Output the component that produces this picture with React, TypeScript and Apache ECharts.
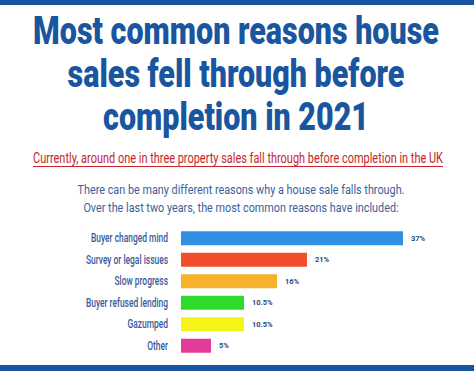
import React, { useEffect, useRef } from "react";
import * as echarts from "echarts";

const categories = ["Buyer changed mind", "Survey or legal issues", "Slow progress", "Buyer refused lending", "Gazumped", "Other"];
const values = [37, 21, 16, 10.5, 10.5, 5];
const barColors = ["#3190e3", "#f24e2b", "#f7b22c", "#2fdb2a", "#f5f418", "#e43b9a"];
const titleLines = ["Most common reasons house", "sales fell through before", "completion in 2021"];
const subtitle = "Currently, around one in three property sales fall through before completion in the UK";
const descLines = ["There can be many different reasons why a house sale falls through.", "Over the last two years, the most common reasons have included:"];

function measure(text: string, font: string): number {
  const ctx = document.createElement("canvas").getContext("2d");
  if (!ctx) return 1;
  ctx.font = font;
  return ctx.measureText(text).width || 1;
}

export default function App() {
  const ref = useRef<HTMLDivElement>(null);
  useEffect(() => {
    if (!ref.current) return;
    const chart = echarts.init(ref.current, undefined, { renderer: "svg" });
    const titleFont = "900 38px Roboto";
    const titleScale = 406 / measure(titleLines[0], titleFont);
    const subFont = "14px Roboto";
    const subScale = 410 / measure(subtitle, subFont);
    const descFont = "13px Roboto";
    const descScale = 327 / measure(descLines[0], descFont);
    const catFont = "500 13.5px Roboto";
    const catScale = 77 / measure(categories[0], catFont);

    const graphics: any[] = [
      { type: "rect", shape: { x: 0, y: 0, width: 474, height: 5 }, style: { fill: "#1a54a0" } },
      { type: "rect", shape: { x: 0, y: 365, width: 474, height: 6 }, style: { fill: "#1a54a0" } },
    ];
    titleLines.forEach((t, i) => {
      graphics.push({
        type: "text",
        x: 236,
        y: 31 + i * 43,
        scaleX: titleScale,
        style: { text: t, fill: "#1a55a0", font: titleFont, textAlign: "center", textVerticalAlign: "middle" },
      });
    });
    graphics.push({
      type: "text",
      x: 238,
      y: 158,
      scaleX: subScale,
      style: { text: subtitle, fill: "#c4262b", font: subFont, textAlign: "center", textVerticalAlign: "middle" },
    });
    graphics.push({ type: "line", shape: { x1: 33, y1: 166.5, x2: 443, y2: 166.5 }, style: { stroke: "#c4262b", lineWidth: 1 } });
    descLines.forEach((t, i) => {
      graphics.push({
        type: "text",
        x: 241,
        y: 190 + i * 18,
        scaleX: descScale,
        style: { text: t, fill: "#3b5f9c", font: descFont, textAlign: "center", textVerticalAlign: "middle" },
      });
    });
    const gridLeft = 181;
    chart.setOption({
      animation: false,
      backgroundColor: "#ffffff",
      grid: { left: gridLeft, top: 227.5, width: 270, height: 129, containLabel: false },
      xAxis: { type: "value", min: 0, max: 45, show: false },
      yAxis: {
        type: "category",
        data: categories,
        inverse: true,
        axisLine: { show: false },
        axisTick: { show: false },
        axisLabel: { show: false },
      },
      series: [
        {
          type: "bar",
          data: values.map((v, i) => ({ value: v, itemStyle: { color: barColors[i] } })),
          barWidth: 14,
          label: {
            show: true,
            position: "right",
            distance: 8,
            formatter: (p: any) => `${p.value}%`,
            color: "#2a4a80",
            fontSize: 7.5,
            fontWeight: "bold",
            fontFamily: "Roboto, sans-serif",
          },
        },
      ],
      graphic: graphics,
    });
    // category labels placed via the y axis scale, condensed with scaleX
    const catGraphics = categories.map((c) => {
      const py = chart.convertToPixel({ yAxisIndex: 0 }, c) as number;
      return {
        type: "text",
        x: gridLeft - 13,
        y: py,
        scaleX: catScale,
        style: { text: c, fill: "#3b5b9b", font: catFont, textAlign: "right", textVerticalAlign: "middle" },
      };
    });
    chart.setOption({ graphic: [...graphics, ...catGraphics] });
    return () => chart.dispose();
  }, []);
  return <div ref={ref} style={{ position: "fixed", left: 0, top: 0, width: 474, height: 371 }} />;
}
